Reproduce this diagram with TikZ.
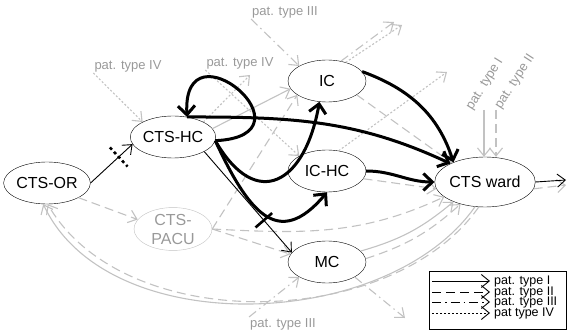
\documentclass[tikz,border=0pt]{standalone}
\usepackage{fontspec}
\setmainfont{Liberation Sans}
\usetikzlibrary{arrows.meta,shapes.geometric,calc}
\definecolor{lightln}{gray}{0.76}
\definecolor{labgray}{gray}{0.6}
\begin{document}
\begin{tikzpicture}[
    x=1pt, y=1pt,
    unit/.style={draw, ellipse, minimum width=78pt, minimum height=42pt, inner sep=0pt, font=\fontsize{16}{19}\selectfont},
    flow/.style={draw=black, line width=0.9pt, -{Straight Barb[length=8pt,width=13pt]}},
    heavy/.style={draw=black, line width=3pt, -{Straight Barb[length=9pt,width=17pt]}},
    side/.style={draw=lightln, line width=1.1pt, -{Straight Barb[length=8pt,width=13pt]}},
    lab/.style={text=labgray, font=\fontsize{13}{14}\selectfont, inner sep=1pt},
    pI/.style={solid},
    pII/.style={dash pattern=on 9pt off 5pt},
    pIII/.style={dash pattern=on 9pt off 4pt on 1.5pt off 4pt},
    pIV/.style={dash pattern=on 2pt off 2pt},
    tickbar/.style={line width=2.6pt, black}
  ]
  \useasboundingbox (0,0) rectangle (567,332);
  % care units
  \foreach \n/\x/\y/\lbl in {OR/47/149/CTS-OR, HC/173/195/CTS-HC, IC/327/251/IC, ICHC/327/161/IC-HC, MC/327/70/MC}
  {
    \node[unit] (\n) at (\x,\y) {\lbl};
  }
  \node[unit, draw=lightln, text=labgray, align=center] (PACU) at (173,103) {CTS-\\PACU};
  \node[unit, minimum width=86pt, minimum height=50pt] (ward) at (485,150) {CTS ward};

  % grey labels and loose ends
  \node[lab] (lIVa) at (128,266) {pat. type IV};
  \node[lab] (lIVb) at (240,269) {pat. type IV};
  \node[lab] (lIIIa) at (285,320) {pat. type III};
  \node[lab] (lIIIb) at (283,8) {pat. type III};
  \node[lab, rotate=58] (lI) at (485,248) {pat. type I};
  \node[lab, rotate=57] (lII) at (515,250) {pat. type II};
  \coordinate (inI) at (484,222);
  \coordinate (inII) at (496,222);
  \coordinate (xIVa) at (250,257);
  \coordinate (xICa) at (394,310);
  \coordinate (xICb) at (402,307);
  \coordinate (xICHC) at (447,260);
  \coordinate (xMC) at (405,14);
  \coordinate (xW1) at (566,152);
  \coordinate (xW2) at (566,147);

  % grey flows
  \draw[side,pII] (OR.-25) -- (PACU.165);
  \draw[side,pI] (ward.-112) to[out=-125,in=-65,looseness=0.9] (OR.-100);
  \draw[side,pII] (ward.-104) to[out=-125,in=-60,looseness=0.9] (OR.-88);
  \draw[side,pII] (PACU.east) -- (IC.205);
  \draw[side,pI] (HC.12) -- (IC.192);
  \draw[side,pII] (PACU.east) -- (MC.168);
  \draw[side,pII] (PACU.east) to[out=-3,in=205] (ward.200);
  \draw[side,pIV] (lIVa.south west) -- (HC.north west);
  \draw[side,pIV] (lIVb.south west) -- (ICHC.north west);
  \draw[side,pIV] (HC.north east) -- (xIVa);
  \draw[side,pIII] (lIIIa.south west) -- (IC.north west);
  \draw[side,pIII] (IC.55) -- (xICa);
  \draw[side,pIV] (IC.45) -- (xICb);
  \draw[side,pIV] (ICHC.60) -- (xICHC);
  \draw[side,pII] (IC.-25) -- (ward.150);
  \draw[side,pII] (ICHC.-12) -- (ward.188);
  \draw[side,pI] (MC.18) to[bend right=12] (ward.212);
  \draw[side,pII] (MC.5) to[bend right=12] (ward.222);
  \draw[side,pIII] (lIIIb.north west) -- (MC.south west);
  \draw[side,pIII] (MC.south east) -- (xMC);
  \draw[side,pI] (inI) -- (inI |- ward.north);
  \draw[side,pII] (inII) -- (inII |- ward.north);
  \draw[side,pII] (ward.-8) -- (xW2);

  % black flows
  \draw[flow] (OR.east) -- coordinate[pos=0.67] (tA) (HC.190);
  \draw[tickbar, dash pattern=on 3pt off 3pt] ($(tA)!13pt!90:(HC.190)$) -- ($(tA)!13pt!-90:(HC.190)$);
  \draw[flow] (HC.-25) -- coordinate[pos=0.68] (tB) (MC.165);
  \draw[tickbar] ($(tB)!11pt!90:(MC.165)$) -- ($(tB)!11pt!-90:(MC.165)$);
  \draw[flow] (ward.east) -- (xW1);
  \draw[heavy] (HC.-5) .. controls +(105,5) and +(-5,98) .. (HC.55);
  \draw[heavy] (HC.55) to[out=0,in=155] (ward.152);
  \draw[heavy] (HC.-5) to[out=-60,in=-100,looseness=1.9] (IC.250);
  \draw[heavy] (HC.-5) to[out=-65,in=-130,looseness=1.6] (ICHC.south);
  \draw[heavy] (IC.15) to[out=-20,in=108] (ward.148);
  \draw[heavy] (ICHC.east) to[out=0,in=180] (ward.west);

  % legend
  \draw[line width=0.8pt] (429,3) rectangle (566,61);
  \foreach \y/\sty/\lbl in {51/pI/pat. type I, 40/pII/pat. type II, 30/pIII/pat. type III, 19/pIV/pat type IV}
  {
    \coordinate (la\y) at (432,\y);
    \coordinate (lb\y) at (490,\y);
    \draw[flow,\sty] (la\y) -- (lb\y);
    \node[anchor=west, inner sep=0pt, font=\fontsize{12.5}{12.5}\selectfont] (lt\y) at (494,\y) {\lbl};
  }
\end{tikzpicture}
\end{document}
